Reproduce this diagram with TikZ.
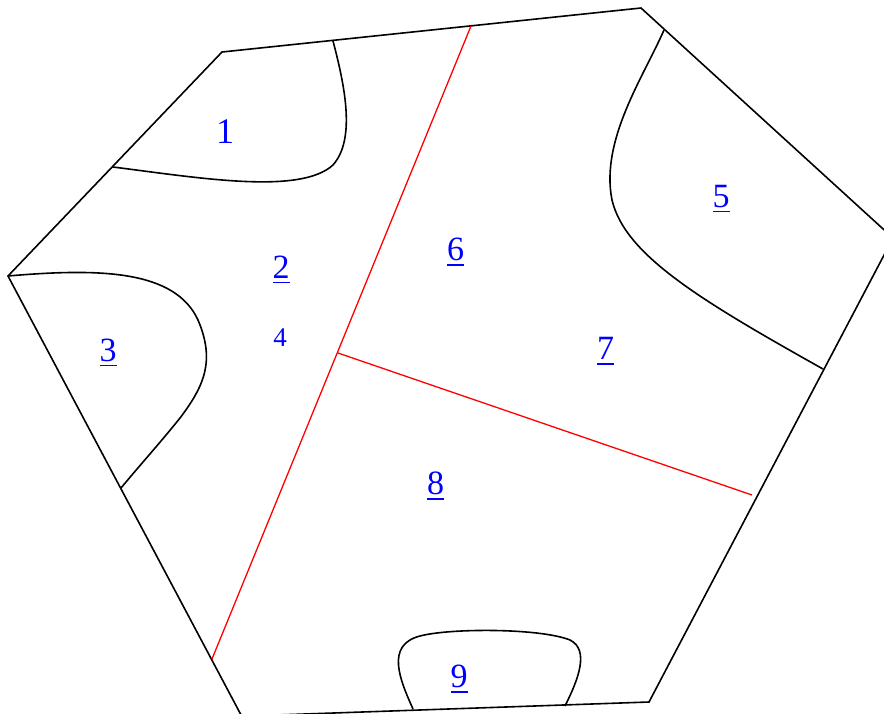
\documentclass[tikz,border=0pt]{standalone}
\usepackage{fontspec}
\setmainfont{Liberation Serif}
\definecolor{linkblue}{HTML}{0000FF}
\definecolor{cutred}{HTML}{FF0000}
\newcommand\linknum[1]{\setbox0\hbox{#1}\rlap{\rule[-5.3pt]{\wd0}{1.7pt}}\box0}

\begin{document}
\begin{tikzpicture}[x=1pt,y=-1pt,
  edge/.style={line width=1.6pt,line join=miter},
  cut/.style={cutred,line width=1.3pt},
  lbl/.style={text=linkblue,anchor=base,inner sep=0pt,font=\fontsize{34}{40}\selectfont}]
  \useasboundingbox (0,0) rectangle (884,713);
  \clip (0,0) rectangle (884,713);
  \coordinate (A) at (222,52);
  \coordinate (B) at (641,8);
  \coordinate (C) at (893,238);
  \coordinate (D) at (649,702);
  \coordinate (F) at (241.7,716.2);
  \coordinate (E) at (8,276);
  \draw[edge] (A)--(B)--(C)--(D)--(F)--(E)--cycle;
  % inner borders
  \draw[edge] (113,167) .. controls (200,178) and (300,195) .. (333,165)
     .. controls (355,140) and (346,90) .. (333,41);
  \draw[edge] (E) .. controls (100,268) and (175,270) .. (198,320)
     .. controls (215,360) and (205,385) .. (180,418)
     .. controls (160,443) and (140,465) .. (121,488);
  \draw[edge] (664,30) .. controls (644,76) and (600,140) .. (612,200)
     .. controls (625,255) and (700,300) .. (823,369);
  \draw[edge] (413,709) .. controls (400,680) and (385,645) .. (420,636)
     .. controls (450,628) and (540,628) .. (570,640)
     .. controls (590,650) and (578,680) .. (565,706);
  \coordinate (J) at (338,353);
  \draw[cut] (471,26) -- (212,659);
  \draw[cut] (J) -- (752,495);
  \node[lbl,font=\fontsize{36}{42}\selectfont] (r1) at (225,143.5) {1};
  \node[lbl] (r2) at (281,278) {\linknum{2}};
  \node[lbl] (r3) at (108,361) {\linknum{3}};
  \node[lbl,font=\fontsize{27}{32}\selectfont] (r4) at (280,346.5) {4};
  \node[lbl] (r5) at (721,207) {\linknum{5}};
  \node[lbl] (r6) at (455.5,260.7) {\linknum{6}};
  \node[lbl] (r7) at (605.5,359.3) {\linknum{7}};
  \node[lbl] (r8) at (435.5,494.3) {\linknum{8}};
  \node[lbl] (r9) at (459,687.3) {\linknum{9}};
\end{tikzpicture}
\end{document}
